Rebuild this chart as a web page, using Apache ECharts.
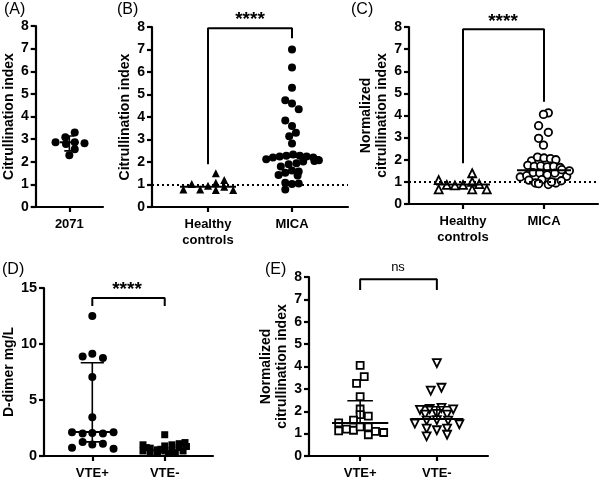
<!DOCTYPE html>
<html>
<head>
<meta charset="utf-8">
<title>Citrullination index</title>
<script src="https://cdn.jsdelivr.net/npm/echarts@6/dist/echarts.min.js"></script>
<style>
    html, body { margin: 0; padding: 0; background: #fff; }
    #main { width: 600px; height: 481px; }
</style>
</head>
<body>
<div id="main"></div>
<script>
// ---------- data ----------
// every group: value + horizontal jitter (in x-axis units, around the category centre)
var catA = ['2071'];
var catBC = ['Healthy\ncontrols', 'MICA'];
var catDE = ['VTE+', 'VTE-'];
var posA = [1];
var posPair = [1, 2.5];

// (A) 2071
var aVal = [2.86, 3.08, 3.29, 2.86, 2.82, 2.79, 2.55, 2.29];
var aJit = [-0.41, -0.12, 0.16, 0.16, 0.45, -0.1, 0.16, 0];
var aMeanSd = [2.86, 2.48, 3.14];

// (B) citrullination index
var bHcVal = [0.78, 1.02, 0.78, 0.95, 1.5, 1.08, 0.76, 1.2, 0.9, 0.76];
var bHcJit = [-0.44, -0.29, -0.14, 0, 0.14, 0.14, 0.14, 0.29, 0.29, 0.45];
var bMicaVal = [7.0, 6.2, 5.3, 4.75, 4.6, 4.35, 3.85, 3.6, 3.3, 3.15, 2.82,
    2.12, 2.2, 2.25, 2.28, 2.33, 2.28, 2.25, 2.2, 2.08,
    1.8, 1.9, 1.95, 2.02, 2.05,
    1.42, 1.52, 1.62, 1.58, 1.4,
    1.08, 1.02, 1.05, 0.78];
var bMicaJit = [0, 0, 0, -0.12, 0, 0.12, -0.12, 0, 0.07, -0.05, 0,
    -0.46, -0.34, -0.22, -0.1, 0.02, 0.14, 0.26, 0.38, 0.48,
    -0.2, -0.06, 0.08, 0.2, 0.4,
    -0.24, -0.12, 0, 0.12, 0.1,
    -0.12, 0, 0.12, -0.12];
var bCentre = [0.9, 2.22];            // mean HC, median MICA
var bBracket = [7.95, 1.9, 7.5];      // top, left foot, right foot

// (C) normalized citrullination index
var cHcVal = [1.08, 0.66, 0.86, 0.84, 0.86, 1.39, 1.0, 0.66, 0.9, 0.66];
var cHcJit = [-0.45, -0.45, -0.3, -0.15, 0, 0.17, 0.17, 0.17, 0.3, 0.44];
var cMicaVal = [4.12, 4.05, 3.54, 3.24, 2.97, 2.66,
    1.95, 2.12, 2.08, 2.05, 2.0,
    1.75, 1.7, 1.72, 1.68, 1.7, 1.65,
    1.22, 1.28, 1.42, 1.4, 1.32, 1.4, 1.55, 1.25, 1.5,
    1.08, 0.95, 1.1, 0.88, 0.95, 1.05, 0.92, 1.0];
var cMicaJit = [0.08, -0.01, -0.1, 0.08, -0.1, -0.01,
    -0.23, -0.12, 0, 0.12, 0.22,
    -0.3, -0.18, -0.06, 0.06, 0.18, 0.3,
    -0.44, -0.32, -0.2, -0.08, 0.06, 0.2, 0.33, 0.42, 0.47,
    -0.28, -0.16, -0.04, 0.08, 0.22, 0.32, -0.1, 0.14];
var cCentre = [0.88, 1.52];
var cBracket = [7.9, 1.84, 4.62];

// (D) D-dimer mg/L
var dPosVal = [12.5, 8.88, 9.12, 8.74, 7.06, 3.47, 2.12, 2.0, 2.06, 2.0, 2.12, 1.24, 1.03, 1.1, 0.73, 0.64];
var dPosJit = [0, -0.2, 0, 0.22, 0, 0, -0.42, -0.2, 0, 0.22, 0.44, -0.2, 0, 0.22, -0.42, 0.44];
var dNegVal = [1.9, 1.0, 0.7, 0.55, 0.9, 1.0, 1.1, 1.2, 0.45, 0.35, 0.3, 0.45, 0.5, 0.75, 0.85, 0.75, 0.25, 0.3, 0.45, 0.6];
var dNegJit = [0, -0.45, -0.3, -0.15, 0, 0.15, 0.3, 0.42, -0.45, -0.3, -0.15, 0, 0.15, 0.3, 0.45, -0.38, 0.08, 0.22, 0.38, -0.08];
var dPosMedIqr = [2.15, 1.26, 8.32];
var dBracket = [14.1, 13.4, 13.4];

// (E) normalized citrullination index by VTE
var ePosVal = [4.05, 3.55, 3.25, 2.65, 2.1, 1.85, 1.78, 1.6, 1.48, 1.12, 1.2, 1.15, 1.3, 1.3, 0.95, 1.1, 1.05];
var ePosJit = [0, 0.08, -0.07, 0, 0, 0, 0.16, -0.13, -0.42, -0.42, -0.27, -0.13, 0, 0.16, 0.16, 0.3, 0.46];
var eNegVal = [4.15, 2.92, 3.05, 2.06, 2.1, 2.15, 2.08, 1.85, 1.88, 1.85, 1.45, 1.58, 1.6, 1.58, 1.42, 1.22, 1.15, 1.22, 0.88, 0.95];
var eNegJit = [0, -0.12, 0.09, -0.33, -0.14, 0.09, 0.32, -0.23, 0, 0.2, -0.43, -0.2, 0, 0.22, 0.44, -0.2, 0, 0.2, -0.2, 0.2];
var ePosMeanSd = [1.47, 2.47];
var eNegMeanSd = [1.65, 2.2];
var eBracket = [7.9, 7.42, 7.42];

// ---------- helpers ----------
var FONT = 'Liberation Sans, Arial, sans-serif';
var BLACK = '#000';

function xAx(i, max, pos, names) {
    return {
        type: 'value', gridIndex: i, min: 0, max: max,
        axisLine: {show: true, onZero: false, lineStyle: {color: BLACK, width: 2.2}},
        axisTick: {show: true, customValues: pos, length: 5, lineStyle: {color: BLACK, width: 2.2}},
        axisLabel: {
            customValues: pos, color: BLACK, fontWeight: 'bold', fontSize: 13, fontFamily: FONT,
            margin: 9, lineHeight: 16,
            formatter: function (v) {
                var k = 0;
                pos.forEach(function (p, j) { if (Math.abs(p - v) < 1e-6) k = j; });
                return names[k];
            }
        },
        splitLine: {show: false}
    };
}

function yAx(i, max, interval, name, nameGap, labelSize) {
    return {
        type: 'value', gridIndex: i, min: 0, max: max, interval: interval,
        name: name, nameLocation: 'middle', nameGap: nameGap,
        nameTextStyle: {color: BLACK, fontWeight: 'bold', fontSize: 14, fontFamily: FONT, lineHeight: 16},
        axisLine: {show: true, lineStyle: {color: BLACK, width: 2.2}},
        axisTick: {show: true, length: 5, lineStyle: {color: BLACK, width: 2.2}},
        axisLabel: {color: BLACK, fontWeight: 'bold', fontSize: labelSize || 14, fontFamily: FONT, margin: 7},
        splitLine: {show: false}
    };
}

function pts(i, centre, jit, vals, symbol, size, filled, rotate) {
    return {
        type: 'scatter', xAxisIndex: i, yAxisIndex: i, symbol: symbol, symbolSize: size,
        symbolRotate: rotate || 0, silent: true, z: 2,
        data: vals.map(function (v, k) { return [centre + jit[k], v]; }),
        itemStyle: filled ? {color: BLACK, opacity: 1} : {color: '#fff', borderColor: BLACK, borderWidth: 1.8, opacity: 1}
    };
}

function seg(i, xy, w) {
    return {
        type: 'line', xAxisIndex: i, yAxisIndex: i, data: xy, symbol: 'none', silent: true,
        clip: false, z: 3, lineStyle: {color: BLACK, width: w || 2}
    };
}

function hline(i, c, y, half, w) { return seg(i, [[c - half, y], [c + half, y]], w); }

function bracket(i, x1, x2, b) {
    return seg(i, [[x1, b[1]], [x1, b[0]], [x2, b[0]], [x2, b[2]]], 2);
}

function dotted(series) {
    series.markLine = {
        silent: true, symbol: ['none', 'none'], label: {show: false},
        lineStyle: {color: BLACK, type: [2, 3], width: 2},
        data: [{yAxis: 1}]
    };
    return series;
}

var series = [];

// A
series.push(pts(0, 1, aJit, aVal, 'circle', 8, true));
series.push(hline(0, 1, aMeanSd[0], 0.28));
series.push(seg(0, [[1, aMeanSd[1]], [1, aMeanSd[2]]], 1.6));
series.push(hline(0, 1, aMeanSd[1], 0.15, 1.6));
series.push(hline(0, 1, aMeanSd[2], 0.15, 1.6));

// B
series.push(dotted(pts(1, posPair[0], bHcJit, bHcVal, 'triangle', 8, true)));
series.push(pts(1, posPair[1], bMicaJit, bMicaVal, 'circle', 8, true));
series.push(hline(1, posPair[0], bCentre[0], 0.5));
series.push(hline(1, posPair[1], bCentre[1], 0.5));
series.push(bracket(1, posPair[0], posPair[1], bBracket));

// C
series.push(dotted(pts(2, posPair[0], cHcJit, cHcVal, 'triangle', 8, false)));
series.push(pts(2, posPair[1], cMicaJit, cMicaVal, 'circle', 7.5, false));
series.push(hline(2, posPair[0], cCentre[0], 0.5));
series.push(hline(2, posPair[1], cCentre[1], 0.5));
series.push(bracket(2, posPair[0], posPair[1], cBracket));

// D
series.push(pts(3, posPair[0], dPosJit, dPosVal, 'circle', 8, true));
series.push(pts(3, posPair[1], dNegJit, dNegVal, 'rect', 7, true));
series.push(hline(3, posPair[0], dPosMedIqr[0], 0.48));
series.push(seg(3, [[posPair[0], dPosMedIqr[1]], [posPair[0], dPosMedIqr[2]]], 1.6));
series.push(hline(3, posPair[0], dPosMedIqr[1], 0.24, 1.6));
series.push(hline(3, posPair[0], dPosMedIqr[2], 0.24, 1.6));
series.push(bracket(3, posPair[0], posPair[1], dBracket));

// E
series.push(pts(4, posPair[0], ePosJit, ePosVal, 'rect', 7, false));
series.push(pts(4, posPair[1], eNegJit, eNegVal, 'triangle', 8, false, 180));
series.push(hline(4, posPair[0], ePosMeanSd[0], 0.55));
series.push(seg(4, [[posPair[0], ePosMeanSd[0]], [posPair[0], ePosMeanSd[1]]], 1.6));
series.push(hline(4, posPair[0], ePosMeanSd[1], 0.25, 1.6));
series.push(hline(4, posPair[1], eNegMeanSd[0], 0.52));
series.push(seg(4, [[posPair[1], eNegMeanSd[0]], [posPair[1], eNegMeanSd[1]]], 1.6));
series.push(hline(4, posPair[1], eNegMeanSd[1], 0.25, 1.6));
series.push(bracket(4, posPair[0], posPair[1], eBracket));

function txt(x, y, s, font, align) {
    return {
        type: 'text', x: x, y: y, silent: true,
        style: {text: s, font: font, fill: BLACK, textAlign: align || 'left', textVerticalAlign: 'middle'}
    };
}

var option = {
    animation: false,
    backgroundColor: '#fff',
    grid: [
        {left: 34, top: 26, width: 69, height: 181},
        {left: 152, top: 27, width: 196, height: 180},
        {left: 409, top: 27, width: 189, height: 177},
        {left: 40, top: 288, width: 173, height: 170},
        {left: 309, top: 277, width: 179, height: 180}
    ],
    xAxis: [
        xAx(0, 2, posA, catA),
        xAx(1, 3.5, posPair, catBC),
        xAx(2, 3.5, posPair, catBC),
        xAx(3, 3.5, posPair, catDE),
        xAx(4, 3.5, posPair, catDE)
    ],
    yAxis: [
        yAx(0, 8, 1, 'Citrullination index', 18),
        yAx(1, 8, 1, 'Citrullination index', 15),
        yAx(2, 8, 1, 'Normalized\ncitrullination index', 19),
        yAx(3, 15, 5, 'D-dimer mg/L', 24, 14.5),
        yAx(4, 8, 1, 'Normalized\ncitrullination index', 19)
    ],
    series: series,
    graphic: [
        txt(4, 10, '(A)', '16px ' + FONT),
        txt(117, 10, '(B)', '16px ' + FONT),
        txt(351, 10, '(C)', '16px ' + FONT),
        txt(2, 270, '(D)', '16px ' + FONT),
        txt(265, 270, '(E)', '16px ' + FONT),
        txt(250, 20, '****', 'bold 19px ' + FONT, 'center'),
        txt(503, 22, '****', 'bold 19px ' + FONT, 'center'),
        txt(127, 290, '****', 'bold 19px ' + FONT, 'center'),
        txt(398, 267, 'ns', '13px ' + FONT, 'center')
    ]
};

var chart = echarts.init(document.getElementById('main'), null, {renderer: 'canvas'});
chart.setOption(option);
</script>
</body>
</html>
